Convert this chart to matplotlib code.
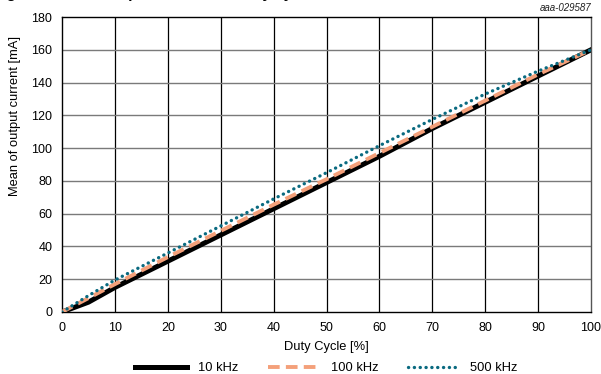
import matplotlib
matplotlib.use("Agg")
import matplotlib.pyplot as plt

plt.rcParams['font.family'] = ['Liberation Sans', 'DejaVu Sans']

duty = [0, 5, 10, 20, 30, 40, 50, 60, 70, 80, 90, 100]
i_10k = [0, 6, 15, 31, 47, 63, 79, 95, 112, 128, 144, 160]
i_100k = [0, 8.5, 17, 33.5, 49.5, 65.5, 81, 97, 113, 129, 145, 160]
i_500k = [0, 10, 19.5, 36, 52.5, 69, 85, 101.5, 117.5, 133, 147, 160]

xticks = list(range(0, 101, 10))
yticks = list(range(0, 181, 20))

fig = plt.figure(figsize=(6.01, 3.74), dpi=100)
ax = fig.add_axes([0.1032, 0.1658, 0.8802, 0.7887])

ax.set_xlim(0, 100)
ax.set_ylim(0, 180)
ax.set_xticks(xticks)
ax.set_yticks(yticks)
for x in xticks[1:-1]:
    ax.axvline(x, color='black', lw=0.9, zorder=1)
for y in yticks[1:-1]:
    ax.axhline(y, color='#7a7a7a', lw=1.0, zorder=1)

ax.plot(duty, i_10k, color='black', lw=3.6, label='10 kHz', zorder=3)
ax.plot(duty, i_100k, color='#f4a07a', lw=2.8, ls=(0, (3.0, 1.6)), label='100 kHz', zorder=4)
ax.plot(duty, i_500k, color='#0a6a80', lw=2.4, ls=(0, (0.05, 1.7)),
        dash_capstyle='round', label='500 kHz', zorder=5)

ax.tick_params(length=0, labelsize=9, pad=7)
for s in ax.spines.values():
    s.set_color('black')
    s.set_linewidth(1.0)
ax.spines['right'].set_color('#555555')

ax.set_xlabel('Duty Cycle [%]', fontsize=9.3, labelpad=5)
ax.set_ylabel('Mean of output current [mA]', fontsize=9.3)
ax.yaxis.set_label_coords(-0.078, 0.664)

fig.text(0.9834, 0.978, 'aaa-029587', fontsize=7, style='italic',
         ha='right', va='center', color='#222222')
# title sits above the image, only its descenders show
fig.text(-0.012, 1.005, 'Figure 9. Mean output current vs. duty cycle', fontsize=11,
         fontweight='bold', ha='left', va='baseline')

ax.legend(loc='center', bbox_to_anchor=(0.5, -0.19), ncol=3, frameon=False,
          fontsize=9.3, handlelength=4.0, columnspacing=2.3, handletextpad=0.85)

fig.savefig('out.png', dpi=100)
